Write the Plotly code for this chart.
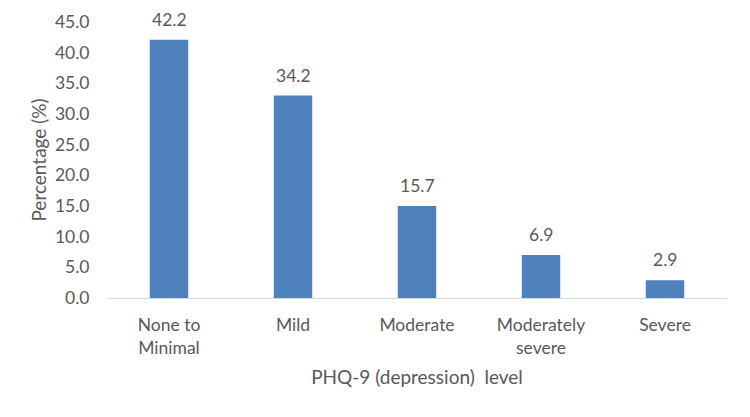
import plotly.graph_objects as go

categories = ["None to<br>Minimal", "Mild", "Moderate", "Moderately<br>severe", "Severe"]
bar_heights = [42.1, 33.0, 15.0, 7.0, 2.9]
value_labels = ["42.2", "34.2", "15.7", "6.9", "2.9"]
y_ticks = [0, 5, 10, 15, 20, 25, 30, 35, 40, 45]

font_family = "Lato, Open Sans, sans-serif"
gray = "#595959"
fs = 17.5

fig = go.Figure(
    go.Bar(
        x=categories,
        y=bar_heights,
        marker=dict(color="#4f81bd", line=dict(width=0)),
        width=0.31,
    )
)

for cat, h, lab in zip(categories, bar_heights, value_labels):
    fig.add_annotation(
        x=cat, y=h, text=lab, showarrow=False,
        yanchor="bottom", yshift=8,
        font=dict(size=fs, color=gray, family=font_family),
    )

fig.update_layout(
    width=750,
    height=417,
    margin=dict(l=99, r=31, t=14, b=127),
    paper_bgcolor="white",
    plot_bgcolor="white",
    showlegend=False,
    font=dict(family=font_family, size=fs, color=gray),
)

fig.update_xaxes(
    automargin=False,
    showline=True,
    linecolor="#d9d9d9",
    linewidth=1,
    ticks="outside",
    tickcolor="rgba(0,0,0,0)",
    ticklen=11,
    showgrid=False,
    tickfont=dict(size=fs, color=gray),
    title=dict(text="PHQ-9 (depression)  level", font=dict(size=19, color=gray), standoff=13),
)

fig.update_yaxes(
    automargin=False,
    range=[0, 45],
    tickvals=y_ticks,
    tickformat=".1f",
    showgrid=False,
    zeroline=False,
    showline=False,
    ticks="outside",
    tickcolor="rgba(0,0,0,0)",
    ticklen=13,
    tickfont=dict(size=fs, color=gray),
    title=dict(text="Percentage (%)", font=dict(size=19, color=gray), standoff=3),
)

fig.write_html("out.html")
